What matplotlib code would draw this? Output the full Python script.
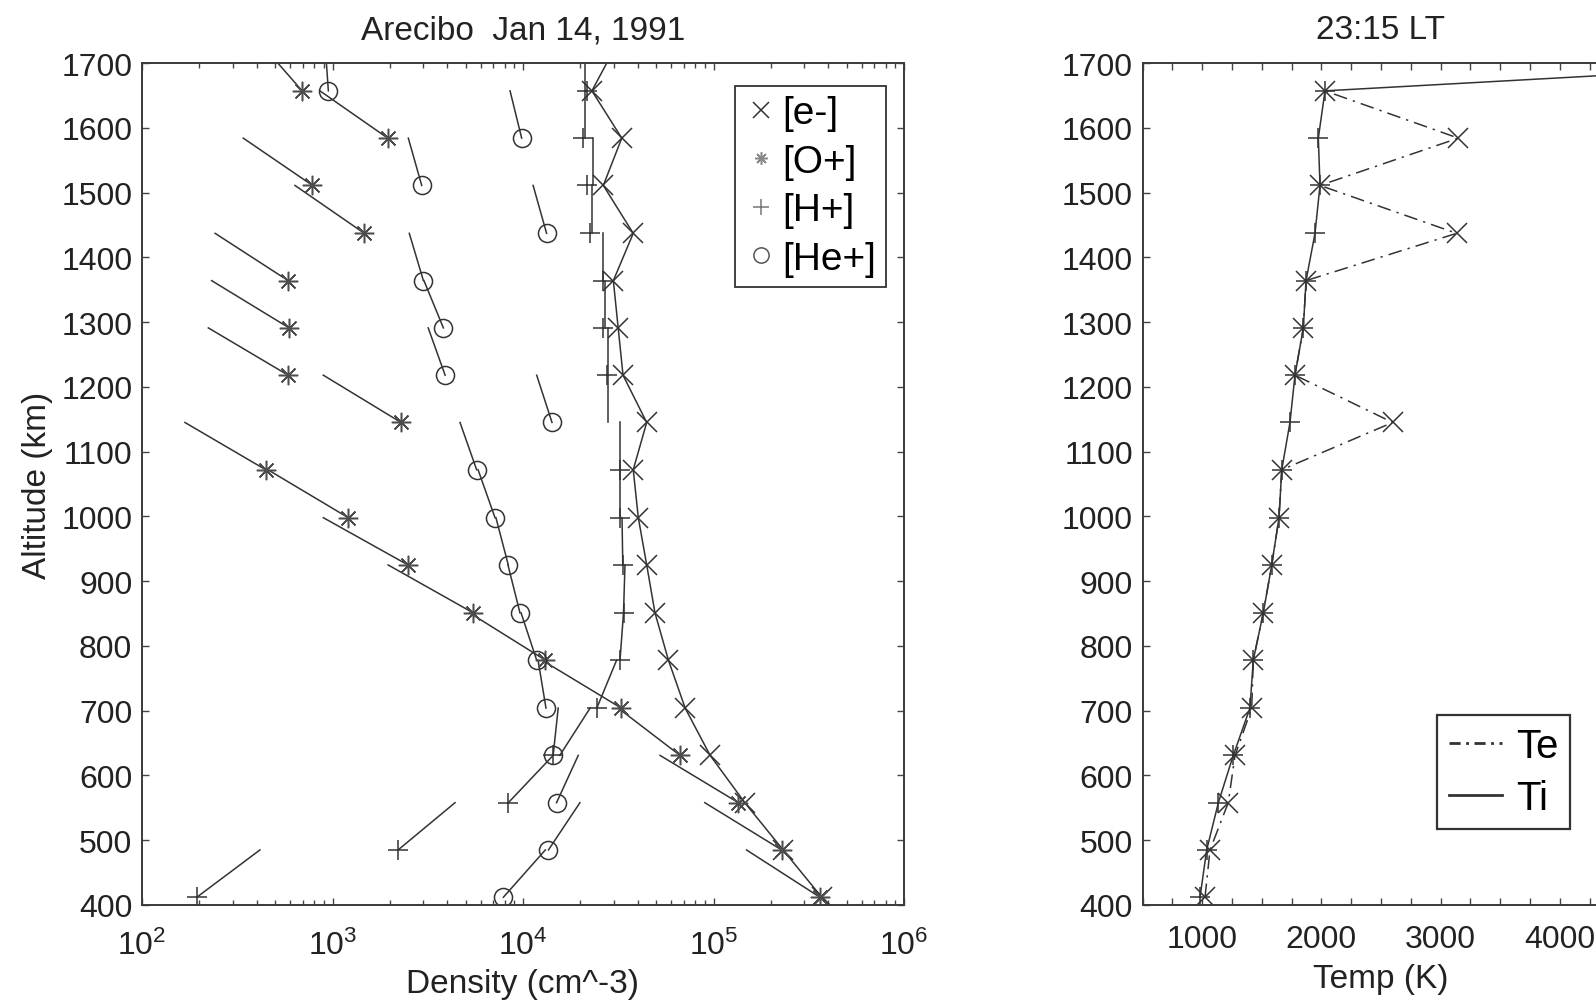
import numpy as np
import matplotlib.pyplot as plt
from matplotlib.ticker import LogLocator, LogFormatterMathtext, MultipleLocator, NullFormatter
from matplotlib.lines import Line2D

plt.rcParams['font.family'] = ['Liberation Sans', 'DejaVu Sans']
plt.rcParams['mathtext.default'] = 'regular'

# altitude bins (km); each fitted segment runs from a bin up to the next one
alt_km = [412, 485, 558, 631, 704, 778, 851, 925, 998, 1072,
          1145, 1218, 1291, 1364, 1437, 1511, 1584, 1657]
alt_next_km = [485, 558, 631, 704, 778, 851, 925, 998, 1072, 1145,
               1218, 1291, 1364, 1437, 1511, 1584, 1657, 1730]
alt_ext_km = alt_km + [1730]

# densities (cm^-3)
ne = [3.70e5, 2.32e5, 1.46e5, 9.6e4, 7.1e4, 5.8e4, 4.93e4, 4.46e4, 4.03e4, 3.79e4,
      4.46e4, 3.35e4, 3.16e4, 2.98e4, 3.79e4, 2.64e4, 3.30e4, 2.30e4, 3.12e4]

n_op = [3.62e5, 2.28e5, 1.35e5, 6.67e4, 3.28e4, 1.31e4, 5.48e3, 2.49e3, 1.21e3, 446,
        2.29e3, 585, 592, 585, 1.47e3, 785, 1.95e3, 693]
n_op_top = [1.49e5, 9.0e4, 5.24e4, 3.16e4, 1.26e4, 5.25e3, 1.96e3, 895, 458, 168,
            895, 223, 232, 242, 635, 340, 859, 420]

n_hp = [194, 2.21e3, 8.38e3, 1.44e4, 2.44e4, 3.23e4, 3.37e4, 3.34e4, 3.23e4, 3.23e4,
        np.nan, 2.75e4, 2.64e4, 2.64e4, 2.25e4, 2.16e4, 2.07e4, 2.16e4]
n_hp_base = [194, 2.21e3, 8.38e3, 1.56e4, 2.44e4, 3.23e4, 3.37e4, 3.34e4, 3.23e4, 3.23e4,
             2.8e4, 2.8e4, 2.69e4, 2.64e4, 2.3e4, 2.34e4, 2.11e4, 2.11e4]
n_hp_top = [416, 4.4e3, 1.44e4, 2.25e4, 3.1e4, 3.37e4, 3.43e4, 3.31e4, 3.23e4, 3.23e4,
            2.8e4, 2.8e4, 2.69e4, 2.64e4, 2.3e4, 2.34e4, 2.11e4, 2.11e4]

n_hep = [7.89e3, 1.36e4, 1.50e4, 1.44e4, 1.32e4, 1.18e4, 9.64e3, 8.37e3, 7.13e3, 5.71e3,
         1.42e4, 3.90e3, 3.82e3, 3.0e3, 1.33e4, 2.94e3, 9.84e3, 951]
n_hep_top = [1.31e4, 1.99e4, 1.95e4, 1.53e4, 1.2e4, 9.77e3, 8.34e3, 7.21e3, 5.81e3, 4.67e3,
             1.18e4, 3.18e3, 3.02e3, 2.53e3, 1.13e4, 2.5e3, 8.55e3, 914]

# temperatures (K)
te = [1023, 1065, 1218, 1275, 1415, 1428, 1512, 1583, 1644, 1667,
      2598, 1778, 1848, 1871, 3135, 1988, 3149, 2030]
ti = [981, 1037, 1135, 1260, 1400, 1428, 1512, 1583, 1644, 1667,
      1736, 1778, 1848, 1871, 1946, 1988, 1974, 2030, 9200]

ink = '#333333'
ink2 = '#4d4d4d'
txt = '#222222'
lw = 1.1
ms = 14
asterisk = (8, 2, 0)
fs_tick = 23
fs_lab = 24
fs_leg = 28

fig = plt.figure(figsize=(15.96, 10.03), dpi=100)
W, H = 1596, 1003
ax1 = fig.add_axes([142 / W, 1 - 906 / H, 762 / W, 842 / H])
ax2 = fig.add_axes([1142.7 / W, 1 - 906 / H, 476.6 / W, 842 / H])

# ---- densities ----
ax1.plot(ne, alt_ext_km, color=ink, lw=lw, marker='x', ms=ms, mew=lw)

for i in range(len(alt_km)):
    ax1.plot([n_op[i], n_op_top[i]], [alt_km[i], alt_next_km[i]], color=ink, lw=lw)
    ax1.plot([n_hp_base[i], n_hp_top[i]], [alt_km[i], alt_next_km[i]], color=ink, lw=lw)
    ax1.plot([n_hep[i], n_hep_top[i]], [alt_km[i], alt_next_km[i]], color=ink, lw=lw)

ax1.plot(n_op, alt_km, ls='none', marker=asterisk, ms=ms, mew=lw, color=ink2)
ax1.plot(n_hp, alt_km, ls='none', marker='+', ms=ms, mew=lw, color=ink)
ax1.plot(n_hep, alt_km, ls='none', marker='o', ms=ms - 1, mew=lw, mfc='none', color=ink)

ax1.set_xscale('log')
ax1.set_xlim(1e2, 1e6)
ax1.set_ylim(400, 1700)
ax1.xaxis.set_major_locator(LogLocator(base=10, numticks=10))
ax1.xaxis.set_major_formatter(LogFormatterMathtext())
ax1.xaxis.set_minor_locator(LogLocator(base=10, subs=np.arange(2, 10), numticks=20))
ax1.xaxis.set_minor_formatter(NullFormatter())
ax1.yaxis.set_major_locator(MultipleLocator(100))
ax1.set_title('Arecibo  Jan 14, 1991', fontsize=fs_lab, pad=18, color=txt)
ax1.set_xlabel('Density (cm^-3)', fontsize=fs_lab, color=txt, labelpad=5)
ax1.set_ylabel('Altitude (km)', fontsize=fs_lab, color=txt, labelpad=6)

leg_handles = [
    Line2D([], [], ls='none', marker='x', ms=12, mew=lw, color=ink),
    Line2D([], [], ls='none', marker=asterisk, ms=9, mew=lw, color='#888888'),
    Line2D([], [], ls='none', marker='+', ms=12, mew=lw, color='#777777'),
    Line2D([], [], ls='none', marker='o', ms=11, mew=lw, mfc='none', color='#555555'),
]
leg1 = ax1.legend(leg_handles, ['[e-]', '[O+]', '[H+]', '[He+]'],
                  loc='upper right', bbox_to_anchor=(0.976, 0.973), borderaxespad=0,
                  fontsize=fs_leg, fancybox=False, framealpha=1, edgecolor=ink,
                  handlelength=0.8, handletextpad=0.15, labelspacing=0.32,
                  borderpad=0.25)
leg1.get_frame().set_linewidth(1.3)

# ---- temperatures ----
ax2.plot(te, alt_km, color=ink, lw=lw, ls='-.', dashes=(9, 4, 1.5, 4),
         marker='x', ms=ms, mew=lw)
ax2.plot(ti, alt_ext_km, color=ink, lw=lw, marker='+', ms=ms, mew=lw)
ax2.set_xlim(500, 4500)
ax2.set_ylim(400, 1700)
ax2.set_xticks([1000, 2000, 3000, 4000])
ax2.xaxis.set_minor_locator(MultipleLocator(250))
ax2.yaxis.set_major_locator(MultipleLocator(100))
ax2.set_title('23:15 LT', fontsize=fs_lab, pad=18, color=txt)
ax2.set_xlabel('Temp (K)', fontsize=fs_lab, color=txt, labelpad=6)

leg2_handles = [
    Line2D([], [], color=ink, lw=2, ls='-.', dashes=(4, 2, 1, 2)),
    Line2D([], [], color=ink, lw=2, ls='-'),
]
leg2 = ax2.legend(leg2_handles, ['Te', 'Ti'], loc='lower right',
                  bbox_to_anchor=(0.897, 0.09), borderaxespad=0,
                  fontsize=29, fancybox=False, framealpha=1, edgecolor=ink,
                  handlelength=1.3, handletextpad=0.35, labelspacing=0.35,
                  borderpad=0.3)
leg2.get_frame().set_linewidth(1.6)

for ax in (ax1, ax2):
    for sp in ax.spines.values():
        sp.set_color('#3a3a3a')
        sp.set_linewidth(1.4)
    ax.tick_params(which='both', direction='in', top=True, right=True,
                   color='#444444', labelcolor=txt, labelsize=fs_tick, width=1.0)
    ax.tick_params(axis='y', which='major', length=5, pad=7)
    ax.tick_params(which='minor', length=3.5)
ax1.tick_params(axis='x', which='major', length=5, pad=18)
ax2.tick_params(axis='x', which='major', length=5, pad=14)
ax2.tick_params(axis='x', which='minor', length=5)

fig.savefig('out.png', dpi=100)
